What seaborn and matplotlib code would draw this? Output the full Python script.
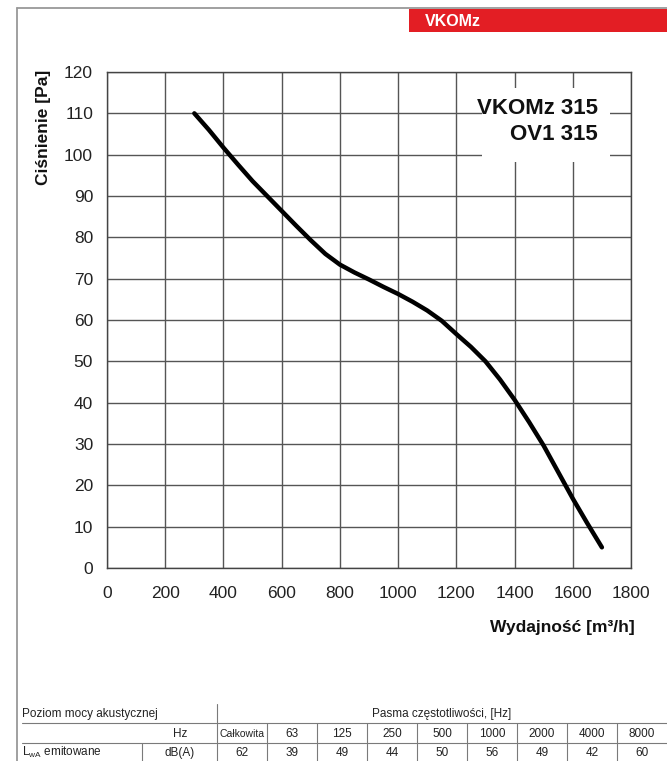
import matplotlib
matplotlib.use("Agg")
import matplotlib.pyplot as plt
import seaborn as sns
import pandas as pd
from matplotlib.patches import Rectangle
from matplotlib.lines import Line2D

# ---- data ----
flow = [300, 350, 400, 450, 500, 550, 600, 650, 700, 750, 800, 850, 900, 950, 1000,
        1050, 1100, 1150, 1200, 1250, 1300, 1350, 1400, 1450, 1500, 1550, 1600, 1650, 1700]
pressure = [110, 106.0, 101.7, 97.6, 93.6, 90.0, 86.4, 82.8, 79.3, 76.0, 73.4, 71.5, 69.8,
            68.0, 66.3, 64.4, 62.3, 59.8, 56.6, 53.5, 50.0, 45.6, 40.7, 35.3, 29.6, 23.2,
            16.8, 10.8, 5.0]
x_ticks = [0, 200, 400, 600, 800, 1000, 1200, 1400, 1600, 1800]
y_ticks = [0, 10, 20, 30, 40, 50, 60, 70, 80, 90, 100, 110, 120]
model_lines = ["VKOMz 315", "OV1 315"]
bands = ["Całkowita", "63", "125", "250", "500", "1000", "2000", "4000", "8000"]
lwa_values = [62, 39, 49, 44, 50, 56, 49, 42, 60]

sns.set_theme(style="white")
plt.rcParams["font.family"] = ["Liberation Sans", "DejaVu Sans"]
plt.rcParams["mathtext.fontset"] = "custom"
plt.rcParams["mathtext.rm"] = "Liberation Sans"
plt.rcParams["mathtext.it"] = "Liberation Sans"
plt.rcParams["mathtext.bf"] = "Liberation Sans:bold"

W, H = 667, 761
fig = plt.figure(figsize=(W / 100, H / 100), dpi=100)
fig.patch.set_facecolor("white")

def fx(px):
    return px / W

def fy(py):
    return 1 - py / H

ax_l, ax_r, ax_t, ax_b = 107, 631, 72, 568
ax = fig.add_axes([fx(ax_l), fy(ax_b), (ax_r - ax_l) / W, (ax_b - ax_t) / H])

df = pd.DataFrame({"flow": flow, "pressure": pressure})
sns.lineplot(data=df, x="flow", y="pressure", ax=ax, color="black", linewidth=3.2,
             sort=False, zorder=5, solid_capstyle="round", solid_joinstyle="round")

ax.set_xlim(0, 1800)
ax.set_ylim(0, 120)
ax.set_xticks(x_ticks)
ax.set_yticks(y_ticks)
ax.set_xticklabels([str(v) for v in x_ticks], fontsize=12.5, color="#222222")
ax.set_yticklabels([str(v) for v in y_ticks], fontsize=12.5, color="#222222")
ax.tick_params(axis="both", direction="out", length=6, width=1, color="#444444")
ax.tick_params(axis="x", pad=7)
ax.tick_params(axis="y", pad=4)
ax.grid(True, color="#555555", linewidth=1.0)
ax.set_axisbelow(True)
for s in ax.spines.values():
    s.set_color("#444444")
    s.set_linewidth(1.0)

ax.set_ylabel("Ciśnienie [Pa]", fontsize=12.5, fontweight="bold", loc="top", color="#111111")
ax.yaxis.set_label_coords(-0.107, 1.004)
ax.set_xlabel("Wydajność [m³/h]", fontsize=12.5, fontweight="bold", loc="right", color="#111111")
ax.xaxis.set_label_coords(1.008, -0.105)

# white box behind model label
ax.add_patch(Rectangle((0.716, 0.819), 0.244, 0.149, transform=ax.transAxes,
                       facecolor="white", edgecolor="none", zorder=3))
ax.text(0.937, 0.926, model_lines[0], transform=ax.transAxes, ha="right", va="center",
        fontsize=16, fontweight="bold", color="#111111", zorder=6)
ax.text(0.937, 0.873, model_lines[1], transform=ax.transAxes, ha="right", va="center",
        fontsize=16, fontweight="bold", color="#111111", zorder=6)

# ---- page decorations ----
fig.add_artist(Line2D([fx(17), fx(667)], [fy(8), fy(8)], color="#999999", linewidth=1.3))
fig.add_artist(Line2D([fx(17), fx(17)], [fy(8), fy(761)], color="#999999", linewidth=1.3))
fig.add_artist(Rectangle((fx(409), fy(32)), fx(667) - fx(409), fy(9) - fy(32),
                         transform=fig.transFigure, facecolor="#E31E24", edgecolor="none"))
fig.text(fx(425), fy(21), "VKOMz", ha="left", va="center", fontsize=11.5,
         fontweight="bold", color="white")

# ---- table ----
tcol = "#7a7a7a"
tfs = 8.5
def hline(py, x0, x1):
    fig.add_artist(Line2D([fx(x0), fx(x1)], [fy(py), fy(py)], color=tcol, linewidth=0.8))

def vline(px, y0, y1):
    fig.add_artist(Line2D([fx(px), fx(px)], [fy(y0), fy(y1)], color=tcol, linewidth=0.8))

r1_top, r1_bot, r2_bot, r3_bot = 704, 723, 742.5, 761
hline(r1_bot, 22, 667)
hline(r2_bot, 22, 667)
vline(217, r1_top, r3_bot)
vline(141.7, r2_bot, r3_bot)

col_left = 217
col_w = 50
for i in range(1, len(bands)):
    vline(col_left + i * col_w, r1_bot, r3_bot)

fig.text(fx(22), fy((r1_top + r1_bot) / 2 + 1), "Poziom mocy akustycznej", ha="left",
         va="center", fontsize=tfs, color="#222222")
fig.text(fx(col_left + col_w * len(bands) / 2), fy((r1_top + r1_bot) / 2 + 1),
         "Pasma częstotliwości, [Hz]", ha="center", va="center", fontsize=tfs, color="#222222")
fig.text(fx(180), fy((r1_bot + r2_bot) / 2 + 1), "Hz", ha="center", va="center",
         fontsize=tfs, color="#222222")
fig.text(fx(22), fy((r2_bot + r3_bot) / 2 + 1), r"L$_{\mathrm{wA}}$ emitowane", ha="left",
         va="center", fontsize=tfs, color="#222222")
fig.text(fx(180), fy((r2_bot + r3_bot) / 2 + 1), "dB(A)", ha="center", va="center",
         fontsize=tfs, color="#222222")
for i, (b, v) in enumerate(zip(bands, lwa_values)):
    cx = col_left + col_w * (i + 0.5)
    fig.text(fx(cx), fy((r1_bot + r2_bot) / 2 + 1), b, ha="center", va="center",
             fontsize=tfs if i else tfs - 1, color="#222222")
    fig.text(fx(cx), fy((r2_bot + r3_bot) / 2 + 1), str(v), ha="center", va="center",
             fontsize=tfs, color="#222222")

fig.savefig("out.png", dpi=100, facecolor="white")
